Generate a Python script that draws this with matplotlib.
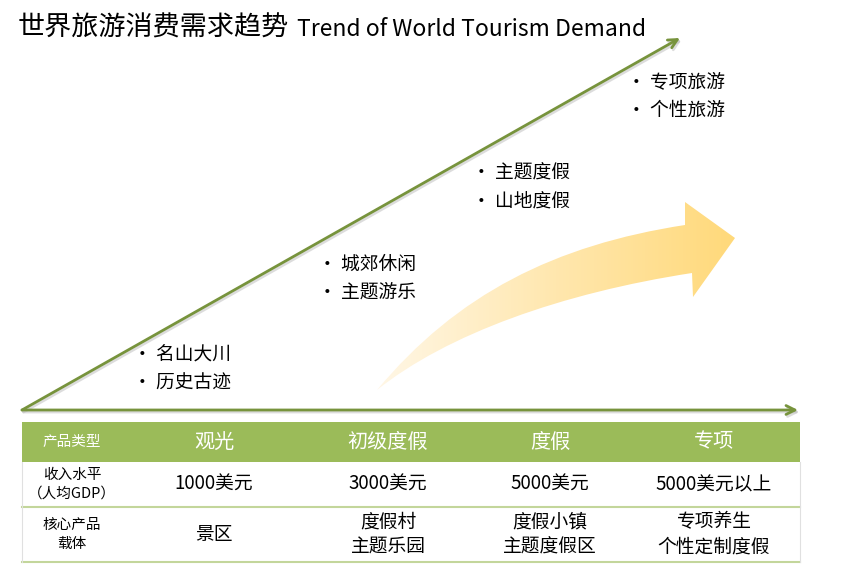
import matplotlib as mpl
mpl.use('Agg')
import matplotlib.pyplot as plt
import numpy as np
from matplotlib.path import Path
from matplotlib.patches import PathPatch, Rectangle
from matplotlib.colors import LinearSegmentedColormap

plt.rcParams['font.family'] = ['Noto Sans CJK SC', 'DejaVu Sans']

title_cn = "世界旅游消费需求趋势"
title_en = "Trend of World Tourism Demand"

# stages along the diagonal arrow: (bullet lines, anchor x, anchor y)
stage_items = [
    ["名山大川", "历史古迹"],
    ["城郊休闲", "主题游乐"],
    ["主题度假", "山地度假"],
    ["专项旅游", "个性旅游"],
]
stage_x = [133, 318, 472, 627]
stage_y = [355, 264, 173, 82]

# table
row_labels = ["产品类型", "收入水平\n（人均GDP）", "核心产品\n载体"]
product_types = ["观光", "初级度假", "度假", "专项"]
income = ["1000美元", "3000美元", "5000美元", "5000美元以上"]
carriers = ["景区", "度假村\n主题乐园", "度假小镇\n主题度假区", "专项养生\n个性定制度假"]

col_x = [72, 214, 388, 550, 714]
row_top = [422, 462, 507]
row_bot = [462, 507, 562]
tab_left, tab_right = 22, 800

green = '#77933C'

fig = plt.figure(figsize=(8.48, 5.75), dpi=100)
ax = fig.add_axes([0, 0, 1, 1])
ax.set_xlim(0, 848)
ax.set_ylim(575, 0)
ax.axis('off')

# title
ax.text(18, 28, title_cn, fontsize=19.5, va='center', ha='left', color='black')
ax.text(297, 29, title_en, fontsize=16.5, va='center', ha='left', color='black')

# curved yellow arrow with gradient
verts = [(377, 390), (457, 294), (555, 245), (685, 225),
         (685, 202), (735, 238), (693, 297), (692, 273),
         (562, 293), (447, 334), (377, 390), (377, 390)]
codes = [Path.MOVETO, Path.CURVE4, Path.CURVE4, Path.CURVE4,
         Path.LINETO, Path.LINETO, Path.LINETO, Path.LINETO,
         Path.CURVE4, Path.CURVE4, Path.CURVE4, Path.CLOSEPOLY]
patch = PathPatch(Path(verts, codes), facecolor='none', edgecolor='none')
ax.add_patch(patch)
cmap = LinearSegmentedColormap.from_list('yel', ['#FFF7E6', '#FFE7AE', '#FFD97A'])
grad = np.linspace(0, 1, 256).reshape(1, -1)
im = ax.imshow(grad, cmap=cmap, extent=(377, 735, 395, 195), aspect='auto', zorder=1)
im.set_clip_path(patch)
ax.set_xlim(0, 848)
ax.set_ylim(575, 0)

# axes arrows
for end in [(680, 38), (798, 410)]:
    ax.annotate('', xy=(end[0] + 1.5, end[1] + 2), xytext=(23.5, 412),
                arrowprops=dict(arrowstyle='->', color='#BBBBBB', lw=2,
                                mutation_scale=16, shrinkA=0, shrinkB=0, alpha=0.5))
    ax.annotate('', xy=end, xytext=(22, 410),
                arrowprops=dict(arrowstyle='->', color=green, lw=2,
                                mutation_scale=16, shrinkA=0, shrinkB=0))

# bullet labels
for items, x, y in zip(stage_items, stage_x, stage_y):
    for k, s in enumerate(items):
        ax.text(x, y + k * 28, "• " + s, fontsize=13.5, va='center', ha='left')

# table
ax.add_patch(Rectangle((tab_left, row_top[0]), tab_right - tab_left,
                       row_bot[0] - row_top[0], facecolor='#9BBB59', edgecolor='none'))
for yb in row_bot[1:]:
    ax.plot([tab_left, tab_right], [yb, yb], color='#C3D69B', lw=1.5)
for xb in [tab_left, tab_right]:
    ax.plot([xb, xb], [row_bot[0], row_bot[2]], color='#E0E0E0', lw=0.8)

rows = [product_types, income, carriers]
for r, vals in enumerate(rows):
    yc = (row_top[r] + row_bot[r]) / 2
    head = r == 0
    ax.text(col_x[0], yc, row_labels[r], fontsize=10.5, ha='center', va='center',
            color='white' if head else 'black', linespacing=1.4)
    for c, v in enumerate(vals):
        ax.text(col_x[c + 1], yc, v, fontsize=14.5 if head else 13.5, ha='center',
                va='center', color='white' if head else 'black', linespacing=1.25)

fig.savefig('out.png', dpi=100)
